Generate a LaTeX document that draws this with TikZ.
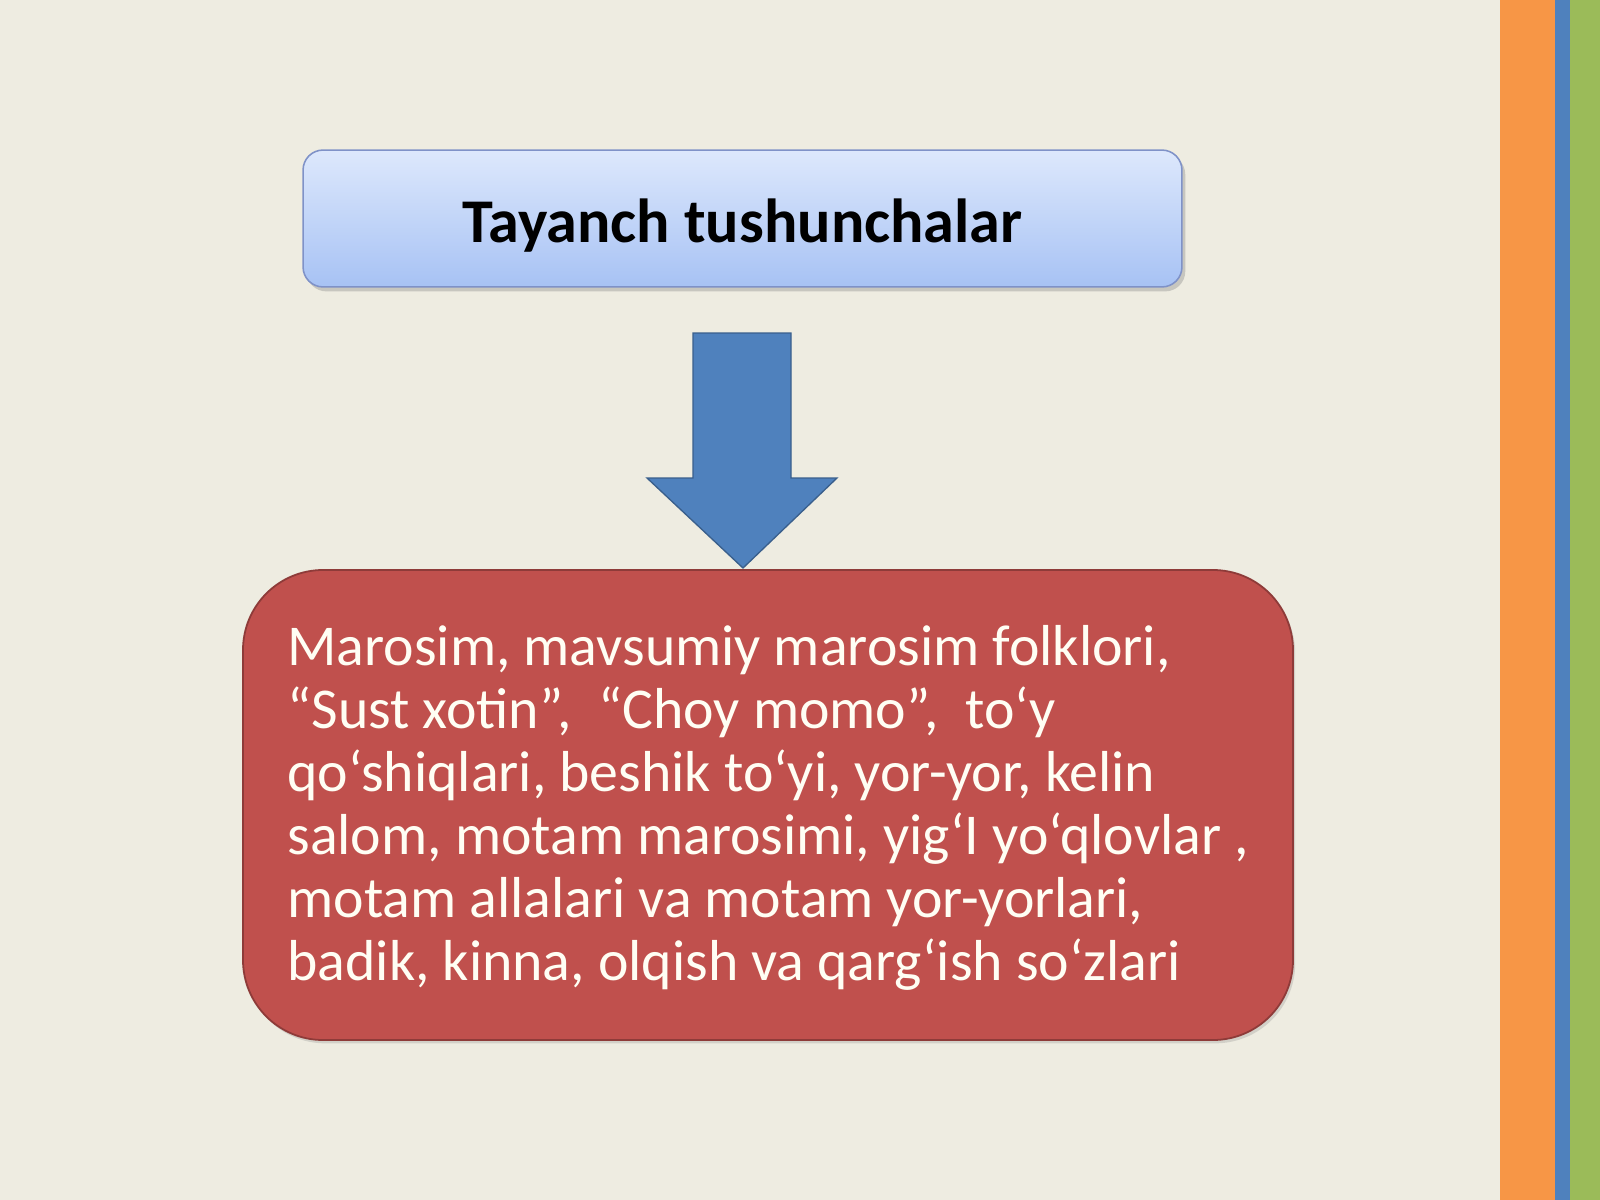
\documentclass[tikz,border=0pt]{standalone}
\usepackage{fontspec}
\setmainfont{Carlito}
\usetikzlibrary{shadows}
\definecolor{bgtan}{HTML}{EEECE1}
\definecolor{stripeorange}{HTML}{F79646}
\definecolor{stripeblue}{HTML}{4F81BD}
\definecolor{stripegreen}{HTML}{9BBB59}
\definecolor{arrowblue}{HTML}{4F81BD}
\definecolor{arrowedge}{HTML}{3A5F8C}
\definecolor{boxred}{HTML}{C0504D}
\definecolor{boxrededge}{HTML}{8E3B39}
\definecolor{titletop}{HTML}{DDE8FC}
\definecolor{titlebot}{HTML}{A7C2F4}
\definecolor{titleedge}{HTML}{7F92C8}
\definecolor{bodytext}{HTML}{FFFEF4}
\tikzset{
  titlebox/.style={draw=titleedge, line width=0.7pt, rounded corners=9pt,
    top color=titletop, bottom color=titlebot,
    minimum width=395.5pt, minimum height=61.6pt, inner sep=0pt,
    text height=21.8pt, text depth=0pt,
    drop shadow={shadow xshift=1.5pt, shadow yshift=-2pt, opacity=0.35},
    font=\bfseries\fontsize{28}{33}\selectfont, text=black},
  redbox/.style={draw=boxrededge, line width=0.8pt, fill=boxred, rounded corners=36pt,
    minimum width=472.5pt, minimum height=211.5pt, inner sep=0pt,
    drop shadow={shadow xshift=1pt, shadow yshift=-1.5pt, opacity=0.25}},
  bodystyle/.style={align=left, inner sep=0pt, text=bodytext,
    font=\fontsize{26}{28.3}\selectfont},
  blockarrow/.style={fill=arrowblue, draw=arrowedge, line width=0.6pt, line join=miter}
}
\begin{document}
\begin{tikzpicture}[x=0.45pt,y=-0.45pt]
\useasboundingbox (0,0) rectangle (1600,1200);
\fill[bgtan] (0,0) rectangle (1600,1200);
\fill[stripeorange] (1500,0) rectangle (1555,1200);
\fill[stripeblue] (1555,0) rectangle (1570,1200);
\fill[stripegreen] (1570,0) rectangle (1600,1200);

\node[titlebox] (title) at (742.5,218.5) {Tayanch tushunchalar};

\node[redbox] (concepts) at (768,805) {};

\draw[blockarrow] (693,333) -- (791,333) -- (791,478) -- (837,478) -- (743,568)
  -- (647,478) -- (693,478) -- cycle;

\node[bodystyle, anchor=base west] (body) at (287,980)
 {Marosim, mavsumiy marosim folklori,\\
  “Sust xotin”,\ \ “Choy momo”,\ \ to‘y\\
  qo‘shiqlari, beshik to‘yi, yor-yor, kelin\\
  salom, motam marosimi, yig‘I yo‘qlovlar ,\\
  motam allalari va motam yor-yorlari,\\
  badik, kinna, olqish va qarg‘ish so‘zlari};
\end{tikzpicture}
\end{document}
